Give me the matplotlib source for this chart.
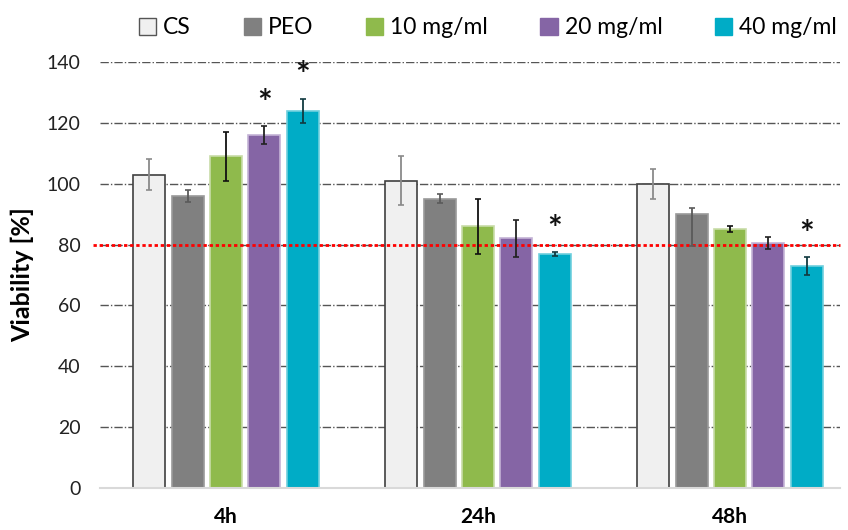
import matplotlib
matplotlib.use("Agg")
import matplotlib.pyplot as plt
from matplotlib.patches import Patch
import numpy as np

plt.rcParams['font.family'] = ['Lato', 'DejaVu Sans']

times = ["4h", "24h", "48h"]
series = ["CS", "PEO", "10 mg/ml", "20 mg/ml", "40 mg/ml"]
values = {
    "CS":       [103, 101, 100],
    "PEO":      [96, 95, 90],
    "10 mg/ml": [109, 86, 85],
    "20 mg/ml": [116, 82, 80.5],
    "40 mg/ml": [124, 77, 73],
}
err_low = {
    "CS":       [5, 8, 5],
    "PEO":      [2, 1.5, 10.5],
    "10 mg/ml": [8, 9, 1],
    "20 mg/ml": [3, 6, 2],
    "40 mg/ml": [4, 0.6, 3],
}
err_high = {
    "CS":       [5, 8, 5],
    "PEO":      [2, 1.5, 2],
    "10 mg/ml": [8, 9, 1],
    "20 mg/ml": [3, 6, 2],
    "40 mg/ml": [4, 0.6, 3],
}
# significance markers: (series, time index)
significant = [("20 mg/ml", 0), ("40 mg/ml", 0), ("40 mg/ml", 1), ("40 mg/ml", 2)]
threshold = 80

fill = {"CS": "#F0F0F0", "PEO": "#808080", "10 mg/ml": "#8FBA4C",
        "20 mg/ml": "#8565A5", "40 mg/ml": "#00ACC6"}
edge = {"CS": "#404040", "PEO": "#9a9a9a", "10 mg/ml": "#c8dca8",
        "20 mg/ml": "#c4b3d6", "40 mg/ml": "#6fd0de"}
ecol = {"CS": "#8a8a8a", "PEO": "#5a5a5a", "10 mg/ml": "#111111",
        "20 mg/ml": "#222222", "40 mg/ml": "#113a40"}

fig = plt.figure(figsize=(8.48, 5.30), dpi=100)
ax = fig.add_axes([100/848, 1-488/530, 740/848, 426/530])

x = np.arange(len(times))
step = 0.1525
width = 0.127
for i, s in enumerate(series):
    pos = x + (i - 2) * step
    ax.bar(pos, values[s], width, color=fill[s],
           edgecolor=edge[s], linewidth=1.2, zorder=3)
    ax.errorbar(pos, values[s], yerr=[err_low[s], err_high[s]], fmt="none",
                ecolor=ecol[s], elinewidth=1.3, capsize=2.5, capthick=1.2, zorder=4)

for s, t in significant:
    i = series.index(s)
    pos = x[t] + (i - 2) * step
    top = values[s][t] + err_high[s][t]
    ax.text(pos, top + 2.0, "*", ha="center", va="bottom",
            fontsize=25, fontweight="bold", color="#111111", zorder=5)

ax.set_ylim(0, 140)
ax.set_xlim(-0.5, 2.4365)
ax.set_yticks(np.arange(0, 141, 20))
ax.yaxis.grid(True, color="#555555", linestyle=(0, (6, 1.5, 1, 1.5)),
              linewidth=1.0, zorder=0)
ax.set_axisbelow(True)
ax.axhline(threshold, color="#ff0000", linestyle=(0, (1.2, 1.0)),
           linewidth=2.0, zorder=3.5, xmin=-0.01, clip_on=False)

for side in ["top", "right", "left"]:
    ax.spines[side].set_visible(False)
ax.spines["bottom"].set_color("#d9d9d9")
ax.spines["bottom"].set_linewidth(1.5)
ax.spines["bottom"].set_zorder(3.6)
ax.tick_params(axis="both", length=0)
ax.tick_params(axis="y", labelsize=14, pad=14, labelcolor="#222222")
ax.set_xticks(x)
ax.set_xticklabels(times, fontsize=15, fontweight="bold")
ax.tick_params(axis="x", pad=14)
ax.set_ylabel("Viability [%]", fontsize=18, fontweight="bold")
ax.yaxis.set_label_coords(-0.089, 0.5)

handles = [Patch(facecolor=fill[s], edgecolor=("#555555" if s == "CS" else fill[s]),
                 linewidth=1.0) for s in series]
fig.legend(handles, series, loc="center", bbox_to_anchor=(488/848, 1-28/530),
           ncol=5, frameon=False, fontsize=16.5, handlelength=0.75, handleheight=0.75,
           handletextpad=0.3, columnspacing=2.3)

fig.savefig("out.png", dpi=100)
